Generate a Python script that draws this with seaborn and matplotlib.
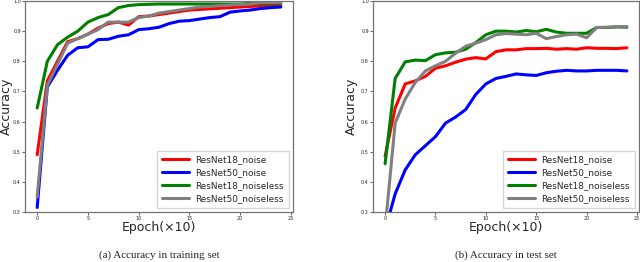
import numpy as np
import pandas as pd
import matplotlib
matplotlib.use("Agg")
import matplotlib.pyplot as plt
import seaborn as sns

epochs = list(range(25))
series_names = ["ResNet18_noise", "ResNet50_noise", "ResNet18_noiseless", "ResNet50_noiseless"]

# zbior treningowy
train_r18_noise = [0.49, 0.735, 0.80, 0.865, 0.875, 0.89, 0.91, 0.925, 0.93, 0.92, 0.948, 0.95, 0.955,
                   0.96, 0.965, 0.97, 0.972, 0.974, 0.976, 0.978, 0.98, 0.982, 0.984, 0.985, 0.985]
train_r50_noise = [0.315, 0.715, 0.77, 0.82, 0.845, 0.848, 0.872, 0.873, 0.883, 0.888, 0.905, 0.908, 0.913,
                   0.925, 0.933, 0.935, 0.94, 0.945, 0.948, 0.963, 0.967, 0.97, 0.975, 0.978, 0.98]
train_r18_clean = [0.645, 0.80, 0.855, 0.88, 0.90, 0.93, 0.945, 0.955, 0.978, 0.985, 0.988, 0.989, 0.99,
                   0.99, 0.99, 0.99, 0.99, 0.99, 0.99, 0.99, 0.99, 0.992, 0.992, 0.992, 0.992]
train_r50_clean = [0.35, 0.72, 0.79, 0.86, 0.875, 0.89, 0.905, 0.93, 0.93, 0.93, 0.945, 0.95, 0.96,
                   0.965, 0.97, 0.975, 0.98, 0.982, 0.985, 0.987, 0.988, 0.99, 0.995, 0.995, 0.995]

# zbior testowy
test_r18_noise = [0.485, 0.645, 0.725, 0.735, 0.75, 0.777, 0.785, 0.797, 0.807, 0.812, 0.808, 0.832, 0.838,
                  0.838, 0.842, 0.842, 0.843, 0.84, 0.842, 0.84, 0.845, 0.843, 0.843, 0.842, 0.845]
test_r50_noise = [0.24, 0.36, 0.44, 0.49, 0.52, 0.55, 0.595, 0.615, 0.64, 0.69, 0.725, 0.743, 0.75,
                  0.758, 0.755, 0.753, 0.762, 0.767, 0.77, 0.768, 0.768, 0.77, 0.77, 0.77, 0.768]
test_r18_clean = [0.46, 0.743, 0.798, 0.804, 0.802, 0.822, 0.828, 0.83, 0.84, 0.862, 0.888, 0.90, 0.90,
                  0.897, 0.902, 0.898, 0.906, 0.897, 0.893, 0.893, 0.893, 0.912, 0.912, 0.914, 0.913]
test_r50_clean = [0.244, 0.595, 0.675, 0.73, 0.768, 0.785, 0.80, 0.827, 0.85, 0.86, 0.872, 0.888, 0.892,
                  0.89, 0.888, 0.893, 0.875, 0.882, 0.888, 0.89, 0.878, 0.912, 0.913, 0.915, 0.915]

captions = ["(a) Accuracy in training set", "(b) Accuracy in test set"]
kolory = {"ResNet18_noise": "red", "ResNet50_noise": "blue",
          "ResNet18_noiseless": "green", "ResNet50_noiseless": "gray"}


def long_df(cols):
    rows = []
    for name, vals in zip(series_names, cols):
        for e, v in zip(epochs, vals):
            rows.append({"Epoch": e, "Accuracy": v, "Model": name})
    return pd.DataFrame(rows)


train = long_df([train_r18_noise, train_r50_noise, train_r18_clean, train_r50_clean])
test = long_df([test_r18_noise, test_r50_noise, test_r18_clean, test_r50_clean])

sns.set_style("white")
plt.rcParams['font.family'] = ['DejaVu Sans']

fig = plt.figure(figsize=(6.4, 2.62), dpi=100)
ax1 = fig.add_axes([25 / 640, 1 - 212 / 262, 268 / 640, 211 / 262])
ax2 = fig.add_axes([373 / 640, 1 - 212 / 262, 266 / 640, 211 / 262])

# odstep prawej krawedzi napisu Accuracy od osi (px)
label_gap = [12.5, 15]

for ax, df, cap, gap in zip([ax1, ax2], [train, test], captions, label_gap):
    sns.lineplot(data=df, x="Epoch", y="Accuracy", hue="Model", palette=kolory,
                 linewidth=2.2, ax=ax)
    ax.set_ylim(0.3, 1.0)
    ax.set_xlim(-1.2, 25.2)
    ax.set_xticks([0, 5, 10, 15, 20, 25])
    ax.set_yticks(np.arange(0.3, 1.01, 0.1))
    ax.tick_params(labelsize=3.5, length=2, width=0.5, pad=1, bottom=True, left=True)
    ax.set_xlabel("Epoch(×10)", fontsize=9, labelpad=0)
    ax.set_ylabel("Accuracy", fontsize=9)
    bb = ax.get_position()
    ax.yaxis.set_label_coords(-gap / (bb.width * 640), 0.5)
    for s in ax.spines.values():
        s.set_color("0.45")
        s.set_linewidth(0.9)
    leg = ax.legend(loc="lower right", fontsize=6.4, handlelength=3.0, borderpad=0.55,
                    labelspacing=0.42, handletextpad=0.7, frameon=True, fancybox=False)
    leg.get_frame().set_edgecolor("0.8")
    for line in leg.get_lines():
        line.set_linewidth(2.2)
    fig.text((bb.x0 + bb.x1) / 2, 1 - 255 / 262, cap, ha="center", va="center",
             fontsize=8, family="Liberation Serif")

fig.savefig("out.png", dpi=100)
